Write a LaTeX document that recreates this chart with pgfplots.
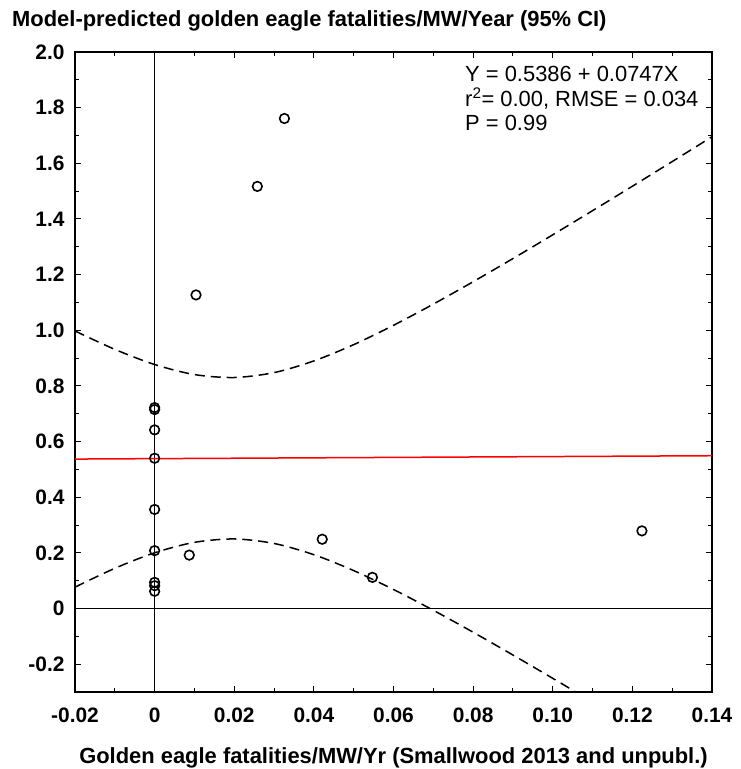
\documentclass[border=0pt]{standalone}
\usepackage{fontspec}
\setmainfont{Liberation Sans}
\usepackage{pgfplots}
\pgfplotsset{compat=1.18}
\begin{document}
\begin{tikzpicture}
\useasboundingbox (-75bp,-77bp) rectangle (666bp,692bp);
\begin{axis}[
  scale only axis,
  width=637bp, height=640bp,
  xmin=-0.02, xmax=0.14, ymin=-0.3, ymax=2.0,
  axis line style={line width=1.6pt},
  tick align=inside,
  xtick={-0.02,0,0.02,0.04,0.06,0.08,0.10,0.12,0.14},
  xticklabels={-0.02,0,0.02,0.04,0.06,0.08,0.10,0.12,0.14},
  ytick={-0.2,0,0.2,0.4,0.6,0.8,1.0,1.2,1.4,1.6,1.8,2.0},
  yticklabels={-0.2,0,0.2,0.4,0.6,0.8,1.0,1.2,1.4,1.6,1.8,2.0},
  minor x tick num=1, minor y tick num=1,
  major tick length=6bp, minor tick length=4bp,
  every tick/.style={black, line width=1pt},
  ticklabel style={font=\fontsize{21}{23}\selectfont\bfseries},
  xticklabel style={yshift=-12.5bp},
  yticklabel style={xshift=-7bp},
  xlabel={Golden eagle fatalities/MW/Yr (Smallwood 2013 and unpubl.)},
  xlabel style={font=\fontsize{22}{24}\selectfont\bfseries, at={(axis description cs:0.5,0)}, anchor=base, yshift=-71bp},
  clip=true,
]
% reference lines
\addplot[black, line width=1pt] coordinates {(0,-0.3) (0,2.0)};
\addplot[black, line width=1pt] coordinates {(-0.02,0) (0.14,0)};
% confidence band
\addplot[black, dash pattern=on 10bp off 6bp, line width=1.5bp, smooth] coordinates {
(-0.02,0.9974) (-0.01,0.9313) (0,0.8769) (0.01,0.8408) (0.02,0.8302) (0.03,0.8478) (0.04,0.8897)
(0.05,0.9483) (0.06,1.0178) (0.07,1.0939) (0.08,1.1744) (0.09,1.2577) (0.10,1.3431)
(0.11,1.4298) (0.12,1.5176) (0.13,1.6062) (0.14,1.6954)};
\addplot[black, dash pattern=on 10bp off 6bp, line width=1.5bp, smooth] coordinates {
(-0.02,0.0768) (-0.01,0.1445) (0,0.2003) (0.01,0.2378) (0.02,0.2500) (0.03,0.2338) (0.04,0.1935)
(0.05,0.1363) (0.06,0.0684) (0.07,-0.0063) (0.08,-0.0852) (0.09,-0.1671) (0.10,-0.2509)
(0.11,-0.3362) (0.12,-0.4224)};
% regression line
\addplot[red, line width=1.5bp] coordinates {(-0.02,0.5371) (0.14,0.5491)};
% data
\addplot[only marks, mark=o, mark size=4.8bp, mark options={line width=1.6pt, black}] coordinates {
(0,0.722) (0,0.715) (0,0.642) (0,0.540) (0,0.356) (0,0.208) (0,0.094) (0,0.082) (0,0.062)
(0.0087,0.192) (0.0104,1.127) (0.0258,1.517) (0.0326,1.761) (0.0421,0.249) (0.0547,0.112) (0.1224,0.279)};
\end{axis}
\node[anchor=base west, font=\fontsize{22}{24}\selectfont\bfseries, inner sep=0pt] at (-63bp,665bp) {Model-predicted golden eagle fatalities/MW/Year (95\% CI)};
\node[anchor=base west, font=\fontsize{22}{24}\selectfont, inner sep=0pt] at (390bp,610bp) {Y = 0.5386 + 0.0747X};
\node[anchor=base west, font=\fontsize{22}{24}\selectfont, inner sep=0pt] at (390bp,585.5bp) {r\textsuperscript{2}= 0.00, RMSE = 0.034};
\node[anchor=base west, font=\fontsize{22}{24}\selectfont, inner sep=0pt] at (390bp,561bp) {P = 0.99};
\end{tikzpicture}
\end{document}
